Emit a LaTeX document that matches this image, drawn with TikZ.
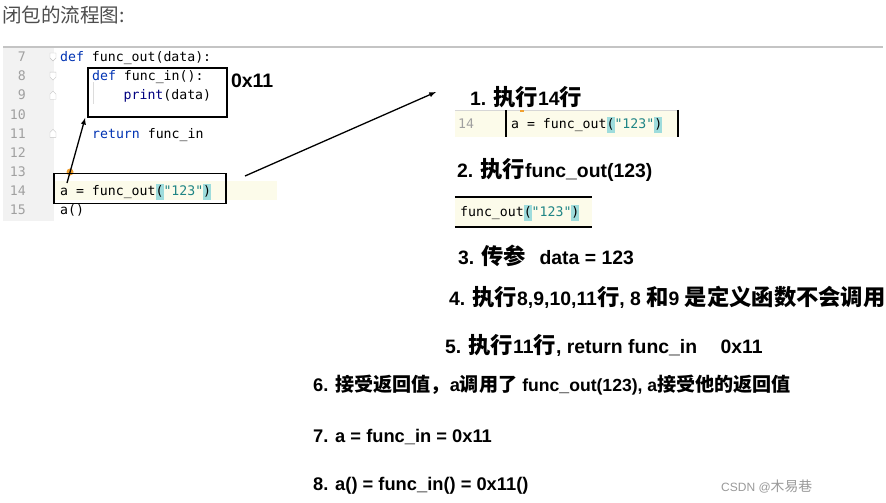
\documentclass[tikz,border=0pt]{standalone}
\usepackage{fontspec}
\setmainfont{Liberation Sans}
\setmonofont{DejaVu Sans Mono}
\newfontfamily\cjk{Noto Sans CJK SC}[Scale=1.15]
\usetikzlibrary{positioning}

\definecolor{kwblue}{HTML}{0033B3}
\definecolor{fnnavy}{HTML}{000080}
\definecolor{strteal}{HTML}{1F8585}
\definecolor{parenbg}{HTML}{9EDCDC}
\definecolor{rowbg}{HTML}{FCFBEA}
\definecolor{gutterbg}{HTML}{F2F2F2}
\definecolor{linenogray}{HTML}{A0A0A0}
\definecolor{rulegray}{HTML}{C4C4C4}
\definecolor{titlegray}{HTML}{4D4D4D}
\definecolor{markgray}{HTML}{9A9A9A}
\definecolor{bulb}{HTML}{F0A030}

\newcommand\zh[1]{{\cjk #1}}
\newcommand\zhs[1]{{\cjk\fontsize{16.6}{20}\selectfont #1}}
\newcommand\hlp[1]{{\setlength\fboxsep{0pt}\colorbox{parenbg}{\strut #1}}}
\newcommand\codefont{\ttfamily\fontsize{13.2}{16}\selectfont}

\begin{document}
\begin{tikzpicture}[x=1pt, y=-1pt,
  code/.style={font=\codefont, anchor=base west, inner sep=0pt},
  lineno/.style={font=\codefont, text=linenogray, anchor=base east, inner sep=0pt},
  stepline/.style={font=\bfseries\fontsize{19.4}{23}\selectfont, anchor=base west, inner sep=0pt},
  steplow/.style={font=\bfseries\fontsize{18.3}{22}\selectfont, anchor=base west, inner sep=0pt},
  codebox/.style={draw=black, line width=1.6pt, inner sep=0pt},
  snipbg/.style={fill=rowbg, inner sep=0pt},
  pointer/.style={-latex, line width=1.3pt}]
\useasboundingbox (0,0) rectangle (886,503);
\fill[white] (0,0) rectangle (886,503);

% title and editor
\node[font=\fontsize{17}{20}\selectfont, text=titlegray, anchor=base west, inner sep=0pt] (title) at (2,22.4) {\zh{闭包的流程图:}};
\draw[rulegray, line width=1.2pt] (3,47) -- (883,47);
\fill[gutterbg] (3,48) rectangle (54,221);
\fill[rowbg] (54,181) rectangle (277,200);
\foreach \n [count=\i from 0] in {7,...,15}
  \node[lineno] (ln\n) at (26,61.7+19.1*\i) {\n};
\foreach \y in {57,76.1}
  \draw[rulegray, fill=white] (50,\y-4) -- (56,\y-4) -- (56,\y+1) -- (53,\y+4) -- (50,\y+1) -- cycle;
\foreach \y in {95.2,133.4}
  \draw[rulegray, fill=white] (50,\y+4) -- (56,\y+4) -- (56,\y-1) -- (53,\y-4) -- (50,\y-1) -- cycle;
\draw[rulegray!60] (93,82) -- (93,104);

\node[code] (c7) at (60,61.7) {{\color{kwblue}def} func\_out(data):};
\node[code] (c8) at (92,80.8) {{\color{kwblue}def} func\_in():};
\node[code] (c9) at (123.5,99.9) {{\color{fnnavy}print}(data)};
\node[code] (c11) at (92,138.1) {{\color{kwblue}return} func\_in};
\node[code] (c14) at (60,195.3) {a = func\_out\hlp{(}{\color{strteal}"123"}\hlp{)}};
\node[code] (c15) at (60,214.4) {a()};
\fill[bulb] (70,172) circle (3.5);

\node[codebox, minimum width=139, minimum height=49] (inbox) at (157.5,92.5) {};
\node[codebox, minimum width=172, minimum height=30] (outbox) at (140,188.5) {};
\node[font=\bfseries\fontsize{19.5}{22}\selectfont, anchor=north west, inner sep=0pt] (inaddr) at ([xshift=3pt,yshift=-6.8pt]inbox.north east) {0x11};

\coordinate (atail) at (67,183);
\coordinate (calltail) at (245,176);
\coordinate (callhead) at (436,92);
\draw[pointer] (atail) -- ([xshift=-2pt]inbox.south west);
\draw[pointer] (calltail) -- (callhead);

% steps
\node[stepline] (step1) at (470,105) {1. \zh{执行}14\zh{行}};
\node[snipbg, minimum width=223, minimum height=27] (snip1) at (566.5,123.5) {};
\draw[rulegray!70] (snip1.north west) -- (snip1.north east);
\draw[line width=1.5pt] (506,110) -- (506,137);
\draw[line width=1.5pt] (snip1.north east) -- (snip1.south east);
\node[lineno, anchor=base west] (sn14) at (458,128.5) {14};
\node[code] (s1code) at (511,128.5) {a = func\_out\hlp{(}{\color{strteal}"123"}\hlp{)}};
\fill[bulb] (519.5,109.5) rectangle (523.5,111.5);

\node[stepline] (step2) at (457,177) {2. \zh{执行}func\_out(123)};
\node[snipbg, minimum width=137, minimum height=30] (snip2) at (523.5,212) {};
\draw[line width=1.6pt] (snip2.north west) -- (snip2.north east);
\draw[line width=1.6pt] (snip2.south west) -- (snip2.south east);
\node[code] (s2code) at (460,216.5) {func\_out\hlp{(}{\color{strteal}"123"}\hlp{)}};

\node[stepline] (step3) at (458,264) {3. \zh{传参}\hspace{8pt} data = 123};
\node[stepline] (step4) at (449,305) {4. \zh{执行}8,9,10,11\zh{行}, 8 \zh{和}9 \zh{是定义函数不会调用}};
\node[stepline] (step5) at (445,353) {5. \zh{执行}11\zh{行}, return func\_in\hspace{18pt} 0x11};
\node[steplow] (step6) at (313,391.8) {6. \zhs{接受返回值，}a\zhs{调用了} {\fontsize{17.6}{21}\selectfont func\_out(123), a}\zhs{接受他的返回值}};
\node[steplow] (step7) at (313,442.8) {7. a = func\_in = 0x11};
\node[steplow] (step8) at (313,490.8) {8. a() = func\_in() = 0x11()};

\node[font=\fontsize{12}{14}\selectfont, text=markgray, anchor=base west, inner sep=0pt] (mark) at (721,491.5) {CSDN @\zh{木易巷}};
\end{tikzpicture}
\end{document}
